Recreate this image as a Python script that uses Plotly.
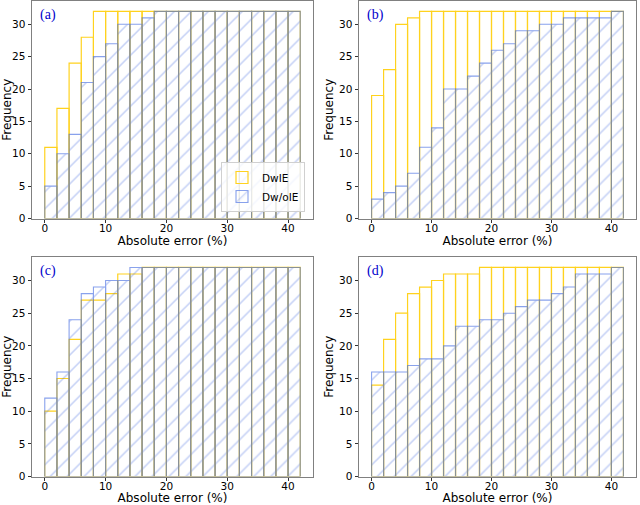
import plotly.graph_objects as go
from plotly.subplots import make_subplots

# bin layout (Absolute error %, bins of width 2 from 0 to 42)
bin_left = [0, 2, 4, 6, 8, 10, 12, 14, 16, 18, 20, 22, 24, 26, 28, 30, 32, 34, 36, 38, 40]
bin_width = 2

# cumulative frequencies
a_dwie  = [11, 17, 24, 28, 32, 32, 32, 32, 32, 32, 32, 32, 32, 32, 32, 32, 32, 32, 32, 32, 32]
a_dwoie = [5, 10, 13, 21, 25, 27, 30, 30, 31, 32, 32, 32, 32, 32, 32, 32, 32, 32, 32, 32, 32]
b_dwie  = [19, 23, 30, 31, 32, 32, 32, 32, 32, 32, 32, 32, 32, 32, 32, 32, 32, 32, 32, 32, 32]
b_dwoie = [3, 4, 5, 7, 11, 14, 20, 20, 22, 24, 26, 27, 29, 29, 30, 30, 31, 31, 31, 31, 32]
c_dwie  = [10, 15, 21, 27, 27, 28, 31, 31, 32, 32, 32, 32, 32, 32, 32, 32, 32, 32, 32, 32, 32]
c_dwoie = [12, 16, 24, 28, 29, 30, 30, 32, 32, 32, 32, 32, 32, 32, 32, 32, 32, 32, 32, 32, 32]
d_dwie  = [14, 21, 25, 28, 29, 30, 31, 31, 31, 32, 32, 32, 32, 32, 32, 32, 32, 32, 32, 32, 32]
d_dwoie = [16, 16, 16, 17, 18, 18, 20, 23, 23, 24, 24, 25, 26, 27, 27, 28, 29, 31, 31, 31, 32]

panel_labels = ["(a)", "(b)", "(c)", "(d)"]
series_names = ["DwIE", "Dw/oIE"]
x_ticks = [0, 10, 20, 30, 40]
y_ticks = [0, 5, 10, 15, 20, 25, 30]

panels = [(a_dwie, a_dwoie), (b_dwie, b_dwoie), (c_dwie, c_dwoie), (d_dwie, d_dwoie)]
positions = [(1, 1), (1, 2), (2, 1), (2, 2)]

W, H = 640, 505
xdoms = [[32 / W, 313 / W], [359 / W, 636 / W]]
ydoms = [[1 - 218.5 / H, 1 - 1 / H], [1 - 476.5 / H, 1 - 257 / H]]

YELLOW = "#FFD21F"
BLUE = "royalblue"

fig = make_subplots(rows=2, cols=2)
centers = [b + bin_width / 2 for b in bin_left]

for i, ((yl, bl), (r, c)) in enumerate(zip(panels, positions)):
    first = (i == 0)
    fig.add_trace(go.Bar(
        x=centers, y=yl, width=bin_width, name=series_names[0],
        marker=dict(color="rgba(0,0,0,0)", line=dict(color=YELLOW, width=1.2)),
        showlegend=first, legendgroup="g1",
    ), row=r, col=c)
    fig.add_trace(go.Bar(
        x=centers, y=bl, width=bin_width, name=series_names[1],
        marker=dict(color="rgba(0,0,0,0)", line=dict(color=BLUE, width=1.1),
                    pattern=dict(shape="/", fgcolor=BLUE, size=12, solidity=0.13,
                                 fillmode="overlay")),
        opacity=0.62,
        showlegend=first, legendgroup="g2",
    ), row=r, col=c)

axis_font = dict(family="DejaVu Sans", size=10.5, color="black")
title_font = dict(family="DejaVu Sans", size=12, color="black")

for i, (r, c) in enumerate(positions):
    fig.update_xaxes(domain=xdoms[c - 1], range=[-2.1, 44.1], tickvals=x_ticks,
                     showline=True, mirror=True, linecolor="#808080", linewidth=1,
                     ticks="outside", ticklen=3.5, tickcolor="#333", showgrid=False,
                     zeroline=False, tickfont=axis_font, automargin=False,
                     ticklabelstandoff=-4,
                     title=dict(text="Absolute error (%)", font=title_font, standoff=4),
                     row=r, col=c)
    fig.update_yaxes(domain=ydoms[r - 1], range=[0, 33.6], tickvals=y_ticks,
                     showline=True, mirror=True, linecolor="#808080", linewidth=1,
                     ticks="outside", ticklen=3.5, tickcolor="#333", showgrid=False,
                     zeroline=False, tickfont=axis_font, automargin=False,
                     title=dict(text="Frequency", font=title_font, standoff=2),
                     row=r, col=c)

xrefs = ["x", "x2", "x3", "x4"]
yrefs = ["y", "y2", "y3", "y4"]
for i, lab in enumerate(panel_labels):
    fig.add_annotation(text=lab, xref=xrefs[i] + " domain", yref=yrefs[i] + " domain",
                       x=0.02, y=0.937, xanchor="left", yanchor="middle", showarrow=False,
                       font=dict(family="Liberation Serif", size=14, color="#0000cc"))

fig.update_layout(
    width=W, height=H,
    margin=dict(l=0, r=0, t=0, b=0),
    barmode="overlay",
    plot_bgcolor="white", paper_bgcolor="white",
    legend=dict(x=305 / W, y=1 - 212 / H, xanchor="right", yanchor="bottom",
                bgcolor="rgba(255,255,255,0.8)", bordercolor="#d0d0d0", borderwidth=1,
                font=dict(family="DejaVu Sans", size=10.5, color="black"),
                entrywidth=72, tracegroupgap=0),
)

fig.write_html("out.html", config={"displayModeBar": False},
               post_script="document.body.style.margin='0';document.body.style.overflow='hidden';")
